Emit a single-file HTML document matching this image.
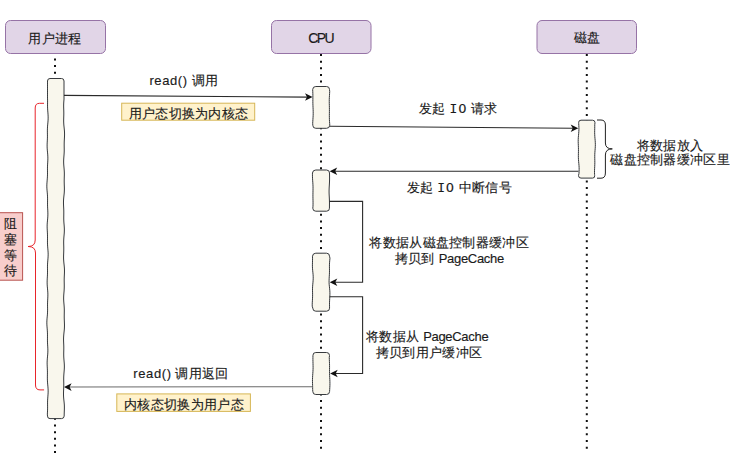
<!DOCTYPE html>
<html><head><meta charset="utf-8">
<style>
html,body{margin:0;padding:0;background:#fff;}
body{width:752px;height:468px;position:relative;overflow:hidden;font-family:"Liberation Sans",sans-serif;color:#1a1a1a;}
svg{position:absolute;left:0;top:0;}
.t{position:absolute;white-space:nowrap;font-size:13px;line-height:16px;text-align:center;width:400px;letter-spacing:0.3px;-webkit-text-stroke:0.15px #1a1a1a;}
.l{letter-spacing:0.6px;}
</style></head><body>
<svg width="752" height="468" viewBox="0 0 752 468">
<g stroke="#111" stroke-width="2" stroke-dasharray="2 4.655" fill="none"><line x1="55" y1="51.8" x2="55" y2="453.3"/><line x1="321" y1="54" x2="321" y2="449.8"/><line x1="586.8" y1="54" x2="586.8" y2="449.8"/></g>
<g fill="#e1d5e7" stroke="#9673a6" stroke-width="1"><rect x="5.5" y="20.5" width="100" height="33" rx="5"/><rect x="271.5" y="20.5" width="99.5" height="33" rx="5"/><rect x="537" y="20.5" width="99.5" height="33" rx="5"/></g>
<g fill="#f9f7ed" stroke="#36393d" stroke-width="1">
<path d="M50.00 78.50 H61.50 Q64.00 78.50 64.00 81.00 L64.00 83.00 L64.00 85.00 L64.00 87.00 L64.00 89.00 L64.00 91.00 L64.00 93.00 L64.00 95.00 L64.00 97.00 L64.04 99.00 L63.86 101.00 L63.73 103.00 L63.66 105.00 L63.67 107.00 L63.73 109.00 L63.79 111.00 L63.82 113.00 L63.80 115.00 L63.74 117.00 L63.69 119.00 L63.67 121.00 L63.72 123.00 L63.85 125.00 L64.05 127.00 L64.26 129.00 L64.44 131.00 L64.54 133.00 L64.55 135.00 L64.47 137.00 L64.36 139.00 L64.26 141.00 L64.19 143.00 L64.18 145.00 L64.20 147.00 L64.23 149.00 L64.22 151.00 L64.15 153.00 L64.02 155.00 L63.86 157.00 L63.72 159.00 L63.65 161.00 L63.66 163.00 L63.77 165.00 L63.94 167.00 L64.11 169.00 L64.25 171.00 L64.33 173.00 L64.33 175.00 L64.28 177.00 L64.22 179.00 L64.20 181.00 L64.22 183.00 L64.28 185.00 L64.35 187.00 L64.38 189.00 L64.34 191.00 L64.22 193.00 L64.02 195.00 L63.81 197.00 L63.62 199.00 L63.51 201.00 L63.48 203.00 L63.54 205.00 L63.64 207.00 L63.74 209.00 L63.80 211.00 L63.81 213.00 L63.79 215.00 L63.75 217.00 L63.76 219.00 L63.82 221.00 L63.95 223.00 L64.11 225.00 L64.26 227.00 L64.35 229.00 L64.34 231.00 L64.25 233.00 L64.09 235.00 L63.91 237.00 L63.77 239.00 L63.69 241.00 L63.68 243.00 L63.72 245.00 L63.77 247.00 L63.79 249.00 L63.76 251.00 L63.69 253.00 L63.62 255.00 L63.57 257.00 L63.60 259.00 L63.72 261.00 L63.90 263.00 L64.12 265.00 L64.31 267.00 L64.44 269.00 L64.48 271.00 L64.44 273.00 L64.35 275.00 L64.25 277.00 L64.20 279.00 L64.19 281.00 L64.22 283.00 L64.26 285.00 L64.26 287.00 L64.20 289.00 L64.08 291.00 L63.91 293.00 L63.76 295.00 L63.66 297.00 L63.65 299.00 L63.73 301.00 L63.88 303.00 L64.06 305.00 L64.20 307.00 L64.29 309.00 L64.31 311.00 L64.28 313.00 L64.24 315.00 L64.22 317.00 L64.25 319.00 L64.33 321.00 L64.41 323.00 L64.47 325.00 L64.45 327.00 L64.35 329.00 L64.17 331.00 L63.95 333.00 L63.75 335.00 L63.61 337.00 L63.56 339.00 L63.59 341.00 L63.67 343.00 L63.76 345.00 L63.81 347.00 L63.81 349.00 L63.78 351.00 L63.73 353.00 L63.72 355.00 L63.78 357.00 L63.90 359.00 L64.06 361.00 L64.22 363.00 L64.34 365.00 L64.36 367.00 L64.29 369.00 L64.15 371.00 L63.98 373.00 L63.83 375.00 L63.73 377.00 L63.71 379.00 L63.73 381.00 L63.77 383.00 L63.78 385.00 L63.74 387.00 L63.66 389.00 L63.57 391.00 L63.50 393.00 L63.50 395.00 L63.59 397.00 L63.76 399.00 L63.97 401.00 L64.18 403.00 L64.33 405.00 L64.39 407.00 L64.37 409.00 L64.31 411.00 L64.23 413.00 L64.18 415.00 L64.17 416.10 Q64.00 418.60 61.50 418.60 H50.00 Q47.50 418.60 47.50 416.10 L47.35 414.10 L47.47 412.10 L47.56 410.10 L47.59 408.10 L47.58 406.10 L47.56 404.10 L47.56 402.10 L47.62 400.10 L47.75 398.10 L47.90 396.10 L48.05 394.10 L48.14 392.10 L48.13 390.10 L48.03 388.10 L47.87 386.10 L47.67 384.10 L47.51 382.10 L47.40 380.10 L47.37 378.10 L47.39 376.10 L47.42 374.10 L47.43 372.10 L47.39 370.10 L47.30 368.10 L47.21 366.10 L47.14 364.10 L47.13 362.10 L47.22 360.10 L47.37 358.10 L47.56 356.10 L47.73 354.10 L47.84 352.10 L47.86 350.10 L47.80 348.10 L47.69 346.10 L47.57 344.10 L47.48 342.10 L47.45 340.10 L47.46 338.10 L47.48 336.10 L47.48 334.10 L47.41 332.10 L47.29 330.10 L47.13 328.10 L46.97 326.10 L46.86 324.10 L46.85 322.10 L46.93 320.10 L47.09 318.10 L47.27 316.10 L47.44 314.10 L47.54 312.10 L47.58 310.10 L47.57 308.10 L47.54 306.10 L47.53 304.10 L47.58 302.10 L47.66 300.10 L47.77 298.10 L47.85 296.10 L47.86 294.10 L47.79 292.10 L47.64 290.10 L47.46 288.10 L47.28 286.10 L47.16 284.10 L47.13 282.10 L47.18 280.10 L47.28 278.10 L47.40 276.10 L47.48 274.10 L47.52 272.10 L47.50 270.10 L47.48 268.10 L47.48 266.10 L47.54 264.10 L47.67 262.10 L47.84 260.10 L48.00 258.10 L48.12 256.10 L48.16 254.10 L48.09 252.10 L47.95 250.10 L47.78 248.10 L47.61 246.10 L47.50 244.10 L47.46 242.10 L47.47 240.10 L47.50 238.10 L47.50 236.10 L47.46 234.10 L47.37 232.10 L47.26 230.10 L47.17 228.10 L47.14 226.10 L47.20 224.10 L47.34 222.10 L47.53 220.10 L47.71 218.10 L47.84 216.10 L47.88 214.10 L47.84 212.10 L47.75 210.10 L47.64 208.10 L47.56 206.10 L47.52 204.10 L47.54 202.10 L47.56 200.10 L47.56 198.10 L47.51 196.10 L47.38 194.10 L47.21 192.10 L47.03 190.10 L46.89 188.10 L46.84 186.10 L46.89 184.10 L47.02 182.10 L47.18 180.10 L47.34 178.10 L47.45 176.10 L47.50 174.10 L47.49 172.10 L47.47 170.10 L47.46 168.10 L47.51 166.10 L47.60 164.10 L47.72 162.10 L47.82 160.10 L47.86 158.10 L47.81 156.10 L47.68 154.10 L47.49 152.10 L47.31 150.10 L47.17 148.10 L47.11 146.10 L47.14 144.10 L47.23 142.10 L47.33 140.10 L47.41 138.10 L47.44 136.10 L47.42 134.10 L47.39 132.10 L47.39 130.10 L47.44 128.10 L47.56 126.10 L47.74 124.10 L47.93 122.10 L48.08 120.10 L48.15 118.10 L48.12 116.10 L48.01 114.10 L47.85 112.10 L47.70 110.10 L47.59 108.10 L47.54 106.10 L47.54 104.10 L47.57 102.10 L47.57 100.10 L47.50 98.10 L47.50 96.10 L47.50 94.10 L47.50 92.10 L47.50 90.10 L47.50 88.10 L47.50 86.10 L47.50 84.10 L47.50 82.10 L47.50 81.00 Q47.50 78.50 50.00 78.50 Z"/>
<path d="M315.80 86.50 H326.50 Q329.50 86.50 329.50 89.50 L329.69 91.50 L329.59 93.50 L329.47 95.50 L329.35 97.50 L329.28 99.50 L329.27 101.50 L329.29 103.50 L329.35 105.50 L329.39 107.50 L329.42 109.50 L329.41 111.50 L329.38 113.50 L329.35 115.50 L329.36 117.50 L329.42 119.50 L329.53 121.50 L329.66 123.50 L329.78 125.30 Q329.50 128.30 326.50 128.30 H315.80 Q312.80 128.30 312.80 125.30 L312.70 123.30 L312.80 121.30 L312.93 119.30 L313.06 117.30 L313.16 115.30 L313.20 113.30 L313.18 111.30 L313.11 109.30 L313.02 107.30 L312.94 105.30 L312.89 103.30 L312.87 101.30 L312.89 99.30 L312.90 97.30 L312.89 95.30 L312.84 93.30 L312.76 91.30 L312.68 89.50 Q312.80 86.50 315.80 86.50 Z"/>
<path d="M315.80 170.00 H326.50 Q329.50 170.00 329.50 173.00 L329.55 175.00 L329.57 177.00 L329.57 179.00 L329.54 181.00 L329.45 183.00 L329.33 185.00 L329.21 187.00 L329.11 189.00 L329.07 191.00 L329.09 193.00 L329.16 195.00 L329.27 197.00 L329.37 199.00 L329.44 201.00 L329.47 203.00 L329.46 205.00 L329.45 207.00 L329.45 208.20 Q329.50 211.20 326.50 211.20 H315.80 Q312.80 211.20 312.80 208.20 L312.99 206.20 L313.04 204.20 L313.04 202.20 L313.00 200.20 L312.96 198.20 L312.93 196.20 L312.94 194.20 L312.97 192.20 L313.01 190.20 L313.03 188.20 L313.00 186.20 L312.91 184.20 L312.79 182.20 L312.64 180.20 L312.52 178.20 L312.45 176.20 L312.44 174.20 L312.46 173.00 Q312.80 170.00 315.80 170.00 Z"/>
<path d="M315.80 253.20 H326.50 Q329.50 253.20 329.50 256.20 L329.96 258.20 L329.75 260.20 L329.58 262.20 L329.47 264.20 L329.44 266.20 L329.46 268.20 L329.49 270.20 L329.48 272.20 L329.41 274.20 L329.29 276.20 L329.16 278.20 L329.08 280.20 L329.07 282.20 L329.17 284.20 L329.36 286.20 L329.58 288.20 L329.78 290.20 L329.90 292.20 L329.92 294.20 L329.85 296.20 L329.73 298.20 L329.61 300.20 L329.53 302.20 L329.51 304.20 L329.54 306.20 L329.56 308.20 Q329.50 311.20 326.50 311.20 H315.80 Q312.80 311.20 312.80 308.20 L312.23 306.20 L312.22 304.20 L312.31 302.20 L312.43 300.20 L312.53 298.20 L312.59 296.20 L312.59 294.20 L312.55 292.20 L312.51 290.20 L312.53 288.20 L312.63 286.20 L312.79 284.20 L312.98 282.20 L313.14 280.20 L313.21 278.20 L313.18 276.20 L313.05 274.20 L312.85 272.20 L312.65 270.20 L312.49 268.20 L312.42 266.20 L312.43 264.20 L312.48 262.20 L312.53 260.20 L312.54 258.20 L312.49 256.20 Q312.80 253.20 315.80 253.20 Z"/>
<path d="M315.80 352.50 H326.50 Q329.50 352.50 329.50 355.50 L329.28 357.50 L329.35 359.50 L329.43 361.50 L329.50 363.50 L329.54 365.50 L329.55 367.50 L329.53 369.50 L329.53 371.50 L329.55 373.50 L329.61 375.50 L329.71 377.50 L329.82 379.50 L329.90 381.50 L329.93 383.50 L329.90 385.50 L329.81 387.50 L329.69 389.50 L329.57 391.50 Q329.50 394.50 326.50 394.50 H315.80 Q312.80 394.50 312.80 391.50 L312.65 389.50 L312.63 387.50 L312.58 385.50 L312.52 383.50 L312.48 381.50 L312.48 379.50 L312.55 377.50 L312.66 375.50 L312.80 373.50 L312.94 371.50 L313.04 369.50 L313.08 367.50 L313.06 365.50 L313.01 363.50 L312.96 361.50 L312.92 359.50 L312.92 357.50 L312.95 355.50 Q312.80 352.50 315.80 352.50 Z"/>
<path d="M581.00 120.20 H592.50 Q595.00 120.20 595.00 122.70 L594.76 124.70 L594.76 126.70 L594.72 128.70 L594.68 130.70 L594.67 132.70 L594.72 134.70 L594.84 136.70 L595.01 138.70 L595.19 140.70 L595.31 142.70 L595.36 144.70 L595.31 146.70 L595.18 148.70 L595.02 150.70 L594.87 152.70 L594.78 154.70 L594.76 156.70 L594.78 158.70 L594.82 160.70 L594.83 162.70 L594.79 164.70 L594.71 166.70 L594.60 168.70 L594.52 170.70 L594.51 172.70 L594.59 174.70 L594.66 175.60 Q595.00 178.10 592.50 178.10 H581.00 Q578.50 178.10 578.50 175.60 L578.94 173.60 L579.08 171.60 L579.15 169.60 L579.12 167.60 L579.00 165.60 L578.82 163.60 L578.63 161.60 L578.47 159.60 L578.39 157.60 L578.37 155.60 L578.40 153.60 L578.44 151.60 L578.45 149.60 L578.41 147.60 L578.33 145.60 L578.25 143.60 L578.19 141.60 L578.21 139.60 L578.31 137.60 L578.47 135.60 L578.66 133.60 L578.82 131.60 L578.91 129.60 L578.91 127.60 L578.82 125.60 L578.69 123.60 L578.63 122.70 Q578.50 120.20 581.00 120.20 Z"/>
</g>
<g fill="none" stroke="#2a2a2a" stroke-width="1.1"><path d="M64 95.4 L308 97.1"/><path d="M329.5 126.3 L574 128.3"/><path d="M578.5 171.3 L334 171.3"/><path d="M329.5 201.4 H362.6 V282.2 H334"/><path d="M329.5 296.7 H362.6 V373.5 H334"/><path d="M312.6 386.7 L68 387" stroke="#6a6a6a"/></g>
<g fill="#111" stroke="none"><path d="M312.6 97.1 L305 93.3 L307 97.1 L305 100.8 Z"/><path d="M578.3 128.3 L570.7 124.5 L572.7 128.3 L570.7 132.1 Z"/><path d="M329.6 171.3 L337.2 167.5 L335.2 171.3 L337.2 175.1 Z"/><path d="M329.7 282.2 L337.3 278.4 L335.3 282.2 L337.3 286 Z"/><path d="M330.1 373.5 L337.7 369.7 L335.7 373.5 L337.7 377.3 Z"/><path d="M64 387.1 L71.6 383.3 L69.6 387.1 L71.6 390.9 Z"/></g>
<g fill="#fff2cc" stroke="#d6b656" stroke-width="1"><rect x="121.7" y="103.2" width="133" height="17"/><rect x="116.8" y="393.9" width="133.6" height="17.5"/></g>
<rect x="-5" y="212.7" width="27.6" height="67.5" fill="#f8cecc" stroke="#b85450" stroke-width="1"/>
<path d="M44 103.3 H39.5 Q35.2 103.3 35.2 108 V240 Q35.2 246.5 28.1 246.5 Q35.5 246.5 35.5 253 V385 Q35.5 389.9 40 389.9 H44.1" fill="none" stroke="#e8242a" stroke-width="1"/>
<path d="M597 120 H601 Q605.4 120 605.4 125 V143 Q605.4 148.9 612.3 148.9 Q605.4 148.9 605.4 155 V173 Q605.4 178.2 601 178.2 H597" fill="none" stroke="#222" stroke-width="1"/>
</svg>
<div class="t" style="left:-145.00px;top:30.80px;">用户进程</div>
<div class="t" style="left:120.60px;top:29.80px;"><span style="font-size:14px;letter-spacing:-1.7px">CPU</span></div>
<div class="t" style="left:387.30px;top:30.00px;">磁盘</div>
<div class="t" style="left:-16.20px;top:73.20px;"><span class="l">read()</span> 调用</div>
<div class="t" style="left:-11.50px;top:105.80px;">用户态切换为内核态</div>
<div class="t" style="left:258.40px;top:100.80px;">发起 <span style="font-family:'Liberation Mono',monospace;letter-spacing:1px">IO</span> 请求</div>
<div class="t" style="left:259.30px;top:179.60px;">发起 <span style="font-family:'Liberation Mono',monospace;letter-spacing:1px">IO</span> 中断信号</div>
<div class="t" style="left:470.10px;top:137.60px;">将数据放入</div>
<div class="t" style="left:470.10px;top:152.40px;">磁盘控制器缓冲区里</div>
<div class="t" style="left:249.20px;top:234.80px;">将数据从磁盘控制器缓冲区</div>
<div class="t" style="left:249.40px;top:250.80px;">拷贝到 <span style="letter-spacing:-0.3px">PageCache</span></div>
<div class="t" style="left:227.20px;top:329.00px;">将数据从 <span style="letter-spacing:-0.3px">PageCache</span></div>
<div class="t" style="left:229.00px;top:345.00px;">拷贝到用户缓冲区</div>
<div class="t" style="left:-19.00px;top:366.30px;"><span class="l">read()</span> 调用返回</div>
<div class="t" style="left:-16.00px;top:396.60px;">内核态切换为用户态</div>
<div class="t" style="left:-189.50px;top:216.20px;line-height:15.7px">阻<br>塞<br>等<br>待</div>
</body></html>
